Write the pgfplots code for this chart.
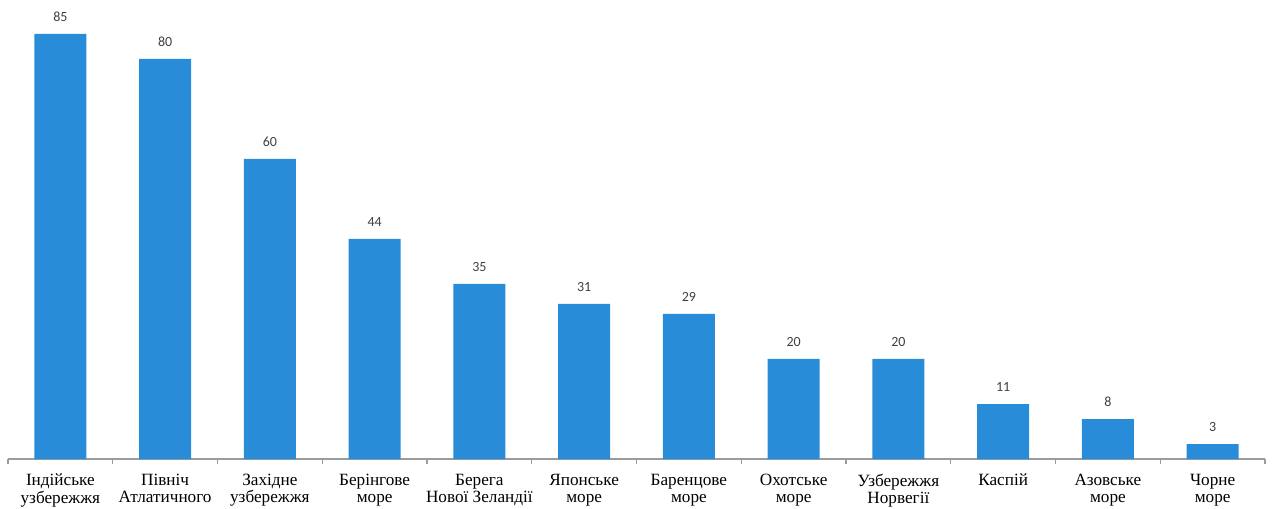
\documentclass[border=0pt]{standalone}
\usepackage{pgfplots}
\pgfplotsset{compat=1.18}
\usepackage{fontspec}
\setmainfont{Liberation Serif}
\newfontfamily\valfont{Carlito}
\definecolor{barblue}{RGB}{41,140,216}
\definecolor{axgray}{RGB}{155,155,155}
\definecolor{valgray}{RGB}{64,64,64}
\begin{document}
\begin{tikzpicture}
\useasboundingbox (0,0) rectangle (636pt,254pt);
\begin{axis}[
  at={(4pt,24.5pt)}, anchor=south west,
  scale only axis, width=628.5pt, height=229.5pt,
  xmin=-0.5, xmax=11.5, ymin=0, ymax=91.8,
  axis y line=none, axis x line*=bottom,
  axis line style={axgray, line width=0.6pt, -},
  xtick={0,...,11},
  xticklabels={{Індійське\\узбережжя},{Північ\\Атлатичного},{Західне\\узбережжя},{Берінгове\\море},{Берега\\Нової Зеландії},{Японське\\море},{Баренцове\\море},{Охотське\\море},{Узбережжя\\Норвегії},{Каспій},{Азовське\\море},{Чорне\\море}},
  major tick length=0pt,
  minor xtick={-0.5,0.5,...,11.5},
  minor tick length=2.6pt,
  tick align=outside,
  minor tick style={axgray, line width=0.6pt},
  xticklabel style={font=\fontsize{8.6}{8.6}\selectfont, align=center, text=black, yshift=-4pt},
  ybar, bar width=26pt,
  nodes near coords,
  every node near coord/.append style={font=\valfont\fontsize{7}{8}\selectfont, text=valgray, yshift=2.5pt, /pgf/number format/assume math mode=true},
]
\addplot[fill=barblue, draw=none] coordinates {(0,85) (1,80) (2,60) (3,44) (4,35) (5,31) (6,29) (7,20) (8,20) (9,11) (10,8) (11,3)};
\end{axis}
\end{tikzpicture}
\end{document}
